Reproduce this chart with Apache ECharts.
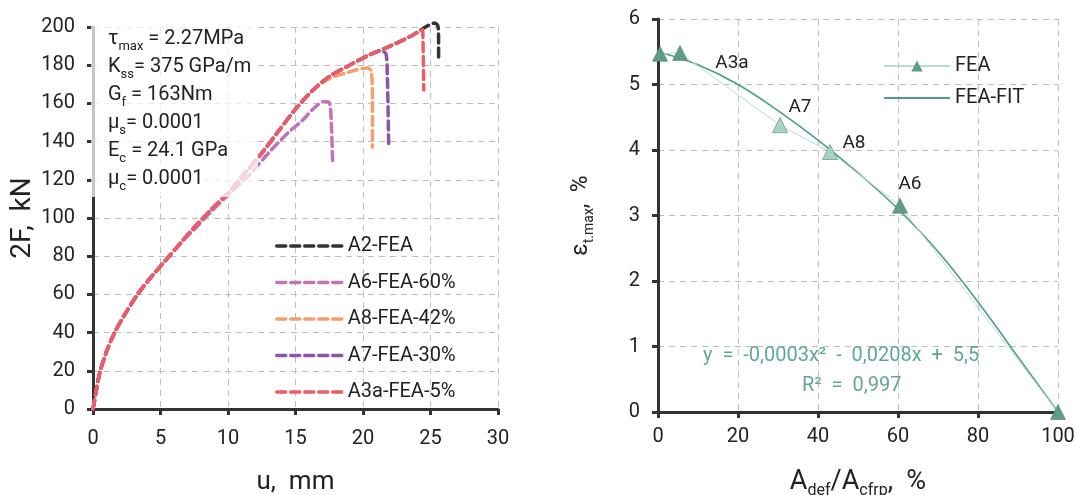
<!DOCTYPE html>
<html>
<head>
<meta charset="utf-8">
<script src="https://cdn.jsdelivr.net/npm/echarts@6/dist/echarts.min.js"></script>
<style>html,body{margin:0;padding:0;background:#fff}#c{width:1075px;height:495px}</style>
</head>
<body>
<div id="c"></div>
<script>
// ---------- Left chart data: 2F (kN) vs u (mm) ----------
const uTicks = [0, 5, 10, 15, 20, 25, 30];
const fTicks = [0, 20, 40, 60, 80, 100, 120, 140, 160, 180, 200];

const A2_FEA = [[0,0],[0.2,8],[0.5,19],[1,30],[1.6,40],[2.4,50],[3.3,60],[4.3,69],[5.4,78],[6.5,87],[7.5,95],[8.7,104],[10,113],[11.2,123],[12.5,134],[13.8,146],[15,157],[16.3,167],[17.5,174],[19,180],[20.5,185.5],[22,190],[23.5,195],[24.4,199],[25.3,202],[25.55,200.5],[25.6,192],[25.6,184]];
const A6_FEA_60 = [[0,0],[0.2,8],[0.5,19],[1,30],[1.6,40],[2.4,50],[3.3,60],[4.3,69],[5.4,78],[6.5,87],[7.5,94],[8.7,103],[10,112],[11.5,122],[13,134],[14.5,145],[15.5,151],[16.3,157],[17.1,161],[17.5,160.5],[17.65,150],[17.75,128]];
const A8_FEA_42 = [[0,0],[0.2,8],[0.5,19],[1,30],[1.6,40],[2.4,50],[3.3,60],[4.3,69],[5.4,78],[6.5,87],[7.5,95],[8.7,104],[10,113],[11.2,123],[12.5,134],[13.8,146],[15,157],[16.3,167],[17.5,173],[19,176.5],[20.3,178.5],[20.6,177],[20.7,160],[20.7,137]];
const A7_FEA_30 = [[0,0],[0.2,8],[0.5,19],[1,30],[1.6,40],[2.4,50],[3.3,60],[4.3,69],[5.4,78],[6.5,87],[7.5,95],[8.7,104],[10,113],[11.2,123],[12.5,134],[13.8,146],[15,157],[16.3,167],[17.5,174],[19,180],[20.5,185.5],[21.3,187.5],[21.7,186],[21.8,175],[21.9,139]];
const A3a_FEA_5 = [[0,0],[0.2,8],[0.5,19],[1,30],[1.6,40],[2.4,50],[3.3,60],[4.3,69],[5.4,78],[6.5,87],[7.5,95],[8.7,104],[10,113],[11.2,123],[12.5,134],[13.8,146],[15,157],[16.3,167],[17.5,174],[19,180],[20.5,185.5],[22,190],[23.5,195],[24.4,198.5],[24.45,190],[24.5,167]];

const leftNames = ['A2-FEA', 'A6-FEA-60%', 'A8-FEA-42%', 'A7-FEA-30%', 'A3a-FEA-5%'];
const leftData = [A2_FEA, A6_FEA_60, A8_FEA_42, A7_FEA_30, A3a_FEA_5];

const paramLines = [
  ['τ', 'max', ' = 2.27MPa'],
  ['K', 'ss', '= 375 GPa/m'],
  ['G', 'f', ' = 163Nm'],
  ['μ', 's', '= 0.0001'],
  ['E', 'c', ' = 24.1 GPa'],
  ['μ', 'c', '= 0.0001']
];

// ---------- Right chart data: eps_t.max (%) vs Adef/Acfrp (%) ----------
const ratioTicks = [0, 20, 40, 60, 80, 100];
const epsTicks = [0, 1, 2, 3, 4, 5, 6];
const feaX = [0.5, 5.5, 30.5, 43, 60.5, 100];
const feaY = [5.47, 5.48, 4.38, 3.97, 3.15, 0];
const feaLabels = ['', 'A3a', 'A7', 'A8', 'A6', ''];
const fitX = [0, 10, 20, 30, 40, 50, 60, 70, 80, 90, 100];
const fitY = [5.5, 5.3, 5.0, 4.6, 4.15, 3.65, 3.1, 2.45, 1.68, 0.84, 0];
const fitEquation = 'y  =  -0,0003x²  -  0,0208x  +  5,5';
const fitR2 = 'R²  =  0,997';

// ---------- styles ----------
const FONT = 'Roboto';
const leftColors = ['#333333', '#c272b8', '#f4a06c', '#8d55a6', '#f25a66'];
const labelOffsets = [[0,0],[52,10],[20,-18],[24,-9],[10,-21],[0,0]];
const pointColors = ['#5f9c87', '#5f9c87', '#a9d2c6', '#a9d2c6', '#5f9c87', '#5f9c87'];
const teal = '#4f9c8c';

const axisLine = {lineStyle: {color: '#333', width: 3}};
const axisTick = {length: 6, lineStyle: {color: '#333', width: 3}};
const splitLine = {show: true, lineStyle: {color: '#bdbdbd', type: [6, 5], width: 1}};
const lbl = {color: '#222', fontSize: 20, fontFamily: FONT};

const chart = echarts.init(document.getElementById('c'), null, {renderer: 'canvas'});

const leftSeries = leftNames.map((n, i) => ({
  name: n, type: 'line', xAxisIndex: 0, yAxisIndex: 0, clip: false,
  data: leftData[i], symbol: 'none', smooth: 0.3,
  lineStyle: {color: leftColors[i], width: 3.5, type: [9, 5], cap: 'round'},
  itemStyle: {color: leftColors[i]}, z: 2 + i
}));

const feaData = feaX.map((x, i) => ({
  value: [x, feaY[i]], name: feaLabels[i],
  itemStyle: {color: pointColors[i], borderColor: '#4a8574', borderWidth: 0.6},
  label: {show: feaLabels[i] !== '', formatter: '{b}', position: 'inside', offset: labelOffsets[i],
          color: '#222', fontSize: 19, fontFamily: FONT}
}));

const sub = (parts) => `{n|${parts[0]}}{s|${parts[1]}}{n|${parts[2]}}`;

const option = {
  animation: false,
  backgroundColor: '#fff',
  textStyle: {fontFamily: FONT},
  grid: [
    {left: 93, top: 27, width: 405, height: 382, outerBoundsMode: 'none', containLabel: false},
    {left: 658, top: 19, width: 400, height: 393, outerBoundsMode: 'none', containLabel: false}
  ],
  xAxis: [
    {type: 'value', gridIndex: 0, min: uTicks[0], max: uTicks[uTicks.length-1], interval: 5,
     axisLine, axisTick, splitLine, axisLabel: {...lbl, margin: 20},
     name: 'u,  mm', nameLocation: 'middle', nameGap: 60,
     nameTextStyle: {fontSize: 26, color: '#222', fontFamily: FONT}},
    {type: 'value', gridIndex: 1, min: ratioTicks[0], max: ratioTicks[ratioTicks.length-1], interval: 20,
     axisLine, axisTick, splitLine, axisLabel: {...lbl, margin: 15},
     name: '{n|A}{s|def}{n|/A}{s|cfrp}{n|,  %}', nameLocation: 'middle', nameGap: 53,
     nameTextStyle: {rich: {
       n: {fontSize: 27, color: '#222', fontFamily: FONT, lineHeight: 34, verticalAlign: 'middle'},
       s: {fontSize: 16, color: '#222', fontFamily: FONT, lineHeight: 34, verticalAlign: 'bottom'}}}}
  ],
  yAxis: [
    {type: 'value', gridIndex: 0, min: fTicks[0], max: fTicks[fTicks.length-1], interval: 20,
     axisLine, axisTick, splitLine, axisLabel: {...lbl, margin: 18},
     name: '2F,  kN', nameLocation: 'middle', nameGap: 54, nameRotate: 90,
     nameTextStyle: {fontSize: 28, color: '#222', fontFamily: FONT}},
    {type: 'value', gridIndex: 1, min: epsTicks[0], max: epsTicks[epsTicks.length-1], interval: 1,
     axisLine, axisTick, splitLine, axisLabel: {...lbl, margin: 18},
     name: '{n|ε}{s|t.max}{n|,  %}', nameLocation: 'middle', nameGap: 62, nameRotate: 90,
     nameTextStyle: {rich: {
       n: {fontSize: 23, color: '#222', fontFamily: FONT, lineHeight: 30, verticalAlign: 'middle'},
       s: {fontSize: 14, color: '#222', fontFamily: FONT, lineHeight: 30, verticalAlign: 'bottom'}}}}
  ],
  legend: [
    {data: leftNames, orient: 'vertical', left: 270, top: 231, itemWidth: 66, itemHeight: 12, itemGap: 16.5,
     itemStyle: {opacity: 0}, lineStyle: {width: 3.5},
     textStyle: {fontSize: 20, color: '#222', fontFamily: FONT}},
    {data: ['FEA', {name: 'FEA-FIT', itemStyle: {opacity: 0}}], orient: 'vertical', left: 878, top: 51,
     itemWidth: 66, itemHeight: 14, itemGap: 12,
     textStyle: {fontSize: 20, color: '#222', fontFamily: FONT}}
  ],
  series: [
    ...leftSeries,
    {name: 'FEA-FIT', type: 'line', xAxisIndex: 1, yAxisIndex: 1, smooth: 0.4, symbol: 'none',
     data: fitX.map((x, i) => [x, fitY[i]]), lineStyle: {color: teal, width: 1.6}, itemStyle: {color: teal}, z: 3},
    {name: 'FEA', type: 'line', xAxisIndex: 1, yAxisIndex: 1, symbol: 'triangle', symbolSize: 15,
     data: feaData, lineStyle: {color: '#b9ddd6', width: 1}, itemStyle: {color: '#5f9c87'}, z: 4}
  ],
  graphic: [
    {type: 'rect', z: 100, shape: {x: 91, y: 17, width: 167, height: 180}, style: {fill: 'rgba(255,255,255,0.72)'}},
    {type: 'text', z: 101, left: 108, top: 29,
     style: {text: paramLines.map(sub).join('\n'),
       rich: {n: {fontSize: 20, fill: '#222', fontFamily: FONT, lineHeight: 28, verticalAlign: 'middle'},
              s: {fontSize: 13, fill: '#222', fontFamily: FONT, lineHeight: 28, verticalAlign: 'bottom'}}}},
    {type: 'text', z: 101, left: 703, top: 346, style: {text: fitEquation, fill: '#5fa898', fontSize: 20, fontFamily: FONT}},
    {type: 'text', z: 101, left: 802, top: 376, style: {text: fitR2, fill: '#5fa898', fontSize: 20, fontFamily: FONT}}
  ]
};
chart.setOption(option);
</script>
</body>
</html>
